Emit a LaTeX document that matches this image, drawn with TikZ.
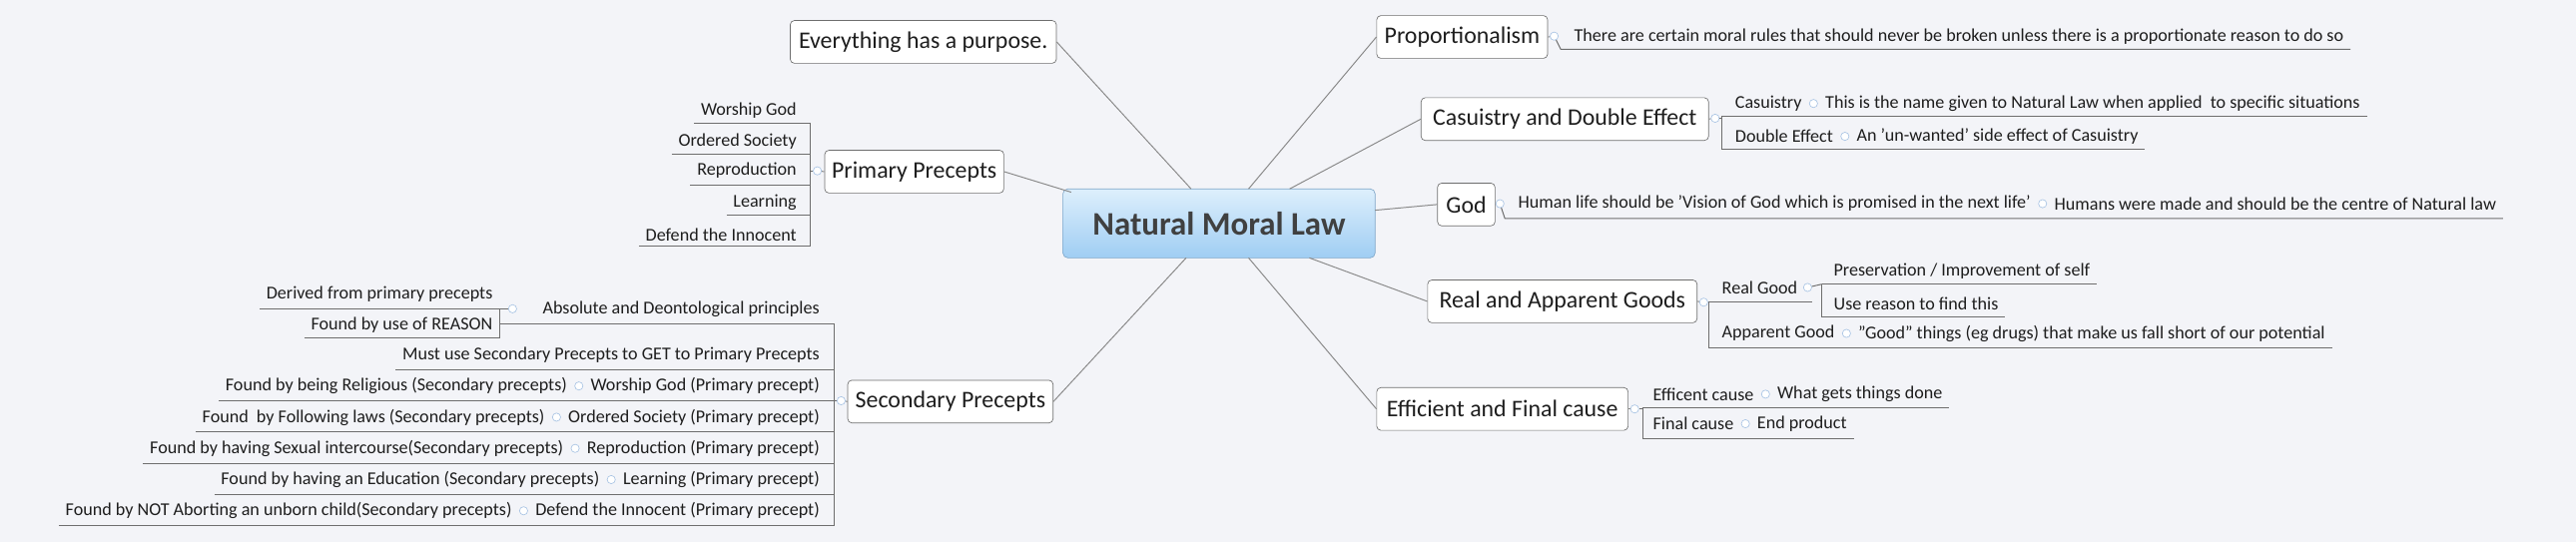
\documentclass[tikz,border=0pt]{standalone}
\usepackage{fontspec}
\setmainfont{Carlito}
\definecolor{bg}{HTML}{F3F4F8}
\definecolor{ln}{HTML}{8A8A8A}
\definecolor{ul}{HTML}{6E6E6E}
\definecolor{dotc}{HTML}{A9C4E4}
\definecolor{ctop}{HTML}{DDEFFC}
\definecolor{cbot}{HTML}{9FCDF3}
\definecolor{cbord}{HTML}{7FA6C8}
\definecolor{txt}{HTML}{1E1E1E}
\begin{document}
\begin{tikzpicture}[x=1pt,y=-1pt,
  topic/.style={draw=ul,rounded corners=2.5pt,fill=white,inner sep=0pt,minimum height=26,font=\fontsize{14.5}{16}\selectfont,text=txt},
  lbl/.style={inner sep=0pt,font=\fontsize{11}{12}\selectfont,text=txt},
  jdot/.style={circle,draw=dotc,fill=white,inner sep=0pt,minimum size=5pt},
  con/.style={draw=ln,line width=0.6pt},
  und/.style={draw=ul,line width=0.6pt}]
\fill[bg] (0,0) rectangle (1568,330);
\useasboundingbox (0,0) rectangle (1568,330);
% central
\node[draw=cbord,rounded corners=3pt,top color=ctop,bottom color=cbot,minimum width=190,minimum height=42,inner sep=0pt,font=\fontsize{20}{22}\selectfont\bfseries,text=black!75] (c) at (742,136) {Natural Moral Law};
% topics
\node[topic,minimum width=162] (ev) at (562,25.5) {Everything has a purpose.};
\node[topic,minimum width=109] (pp) at (556.5,104.5) {Primary Precepts};
\node[topic,minimum width=125] (sp) at (578.5,244.5) {Secondary Precepts};
\node[topic,minimum width=104] (pr) at (890,22.5) {Proportionalism};
\node[topic,minimum width=175] (cd) at (952.5,72.5) {Casuistry and Double Effect};
\node[topic,minimum width=35] (gd) at (892.5,124.5) {God};
\node[topic,minimum width=164] (ra) at (951,183.5) {Real and Apparent Goods};
\node[topic,minimum width=153] (ef) at (914.5,249) {Efficient and Final cause};
% main connectors
\coordinate (c1) at (725,115); \coordinate (c2) at (652,117);
\coordinate (c3) at (722,157); \coordinate (c4) at (760,115);
\coordinate (c5) at (785,115); \coordinate (c6) at (837,128);
\coordinate (c7) at (797,157); \coordinate (c8) at (760,157);
\draw[con] (c1) -- (ev.east); \draw[con] (c2) -- (pp.east);
\draw[con] (c3) -- (sp.east); \draw[con] (c4) -- (pr.west);
\draw[con] (c5) -- (cd.west); \draw[con] (c6) -- (gd.west);
\draw[con] (c7) -- (ra.west); \draw[con] (c8) -- (ef.west);
% Primary precepts children
\node[lbl,anchor=east] (p1) at (485,67) {Worship God};
\node[lbl,anchor=east] (p2) at (485,86) {Ordered Society};
\node[lbl,anchor=east] (p3) at (485,104) {Reproduction};
\node[lbl,anchor=east] (p4) at (485,123) {Learning};
\node[lbl,anchor=east] (p5) at (485,143) {Defend the Innocent};
\coordinate (pv1) at (493,75); \coordinate (pv5) at (493,150);
\draw[und] (pv1) -- (pv5);
\foreach \n/\y in {p1/75,p2/94,p3/113,p4/131,p5/150}{\draw[und] ([xshift=-4pt]\n.west|-0,\y) -- (493,\y);}
\node[jdot] (pj) at (497.5,104) {};
\draw[con] (pp.west) -- (pj); \draw[und] (pj) -- (493,104);
% Secondary precepts children
\node[jdot] (sj) at (512,244) {};
\draw[con] (sp.west) -- (sj); \draw[und] (sj) -- (508,244);
\draw[und] (508,197) -- (508,320);
\node[lbl,anchor=east] (s1) at (499,188) {Absolute and Deontological principles};
\node[lbl,anchor=east] (s2) at (499,216) {Must use Secondary Precepts to GET to Primary Precepts};
\node[lbl,anchor=east] (s3) at (499,235) {Worship God (Primary precept)};
\node[lbl,anchor=east] (s4) at (499,254) {Ordered Society (Primary precept)};
\node[lbl,anchor=east] (s5) at (499,273) {Reproduction (Primary precept)};
\node[lbl,anchor=east] (s6) at (499,292) {Learning (Primary precept)};
\node[lbl,anchor=east] (s7) at (499,311) {Defend the Innocent (Primary precept)};
\node[jdot] (aj) at (312,188) {};
\node[lbl,anchor=east] (a1) at (300,179) {Derived from primary precepts};
\node[lbl,anchor=east] (a2) at (300,198) {Found by use of REASON};
\draw[und] (304,188) -- (304,206);
\draw[und] ([xshift=-4pt]a1.west|-0,188) -- (304,188);
\draw[und] ([xshift=-4pt]a2.west|-0,206) -- (304,206);
\draw[und] (aj) -- (304,188);
\draw[und] (304,197) -- (508,197);
\draw[und] ([xshift=-4pt]s2.west|-0,225) -- (508,225);
\foreach \p/\t/\k in {s3/Found by being Religious (Secondary precepts)/3,
  s4/Found\ \ by Following laws (Secondary precepts)/4,
  s5/Found by having Sexual intercourse(Secondary precepts)/5,
  s6/Found by having an Education (Secondary precepts)/6,
  s7/Found by NOT Aborting an unborn child(Secondary precepts)/7}{
  \node[jdot] (sd\k) at ([xshift=-7pt]\p.west) {};
  \node[lbl,anchor=east] (sc\k) at ([xshift=-7pt]sd\k.center) {\t};
}
\foreach \k/\y in {3/244,4/263,5/282,6/301,7/320}{\draw[und] ([xshift=-4pt]sc\k.west|-0,\y) -- (508,\y);}
% Proportionalism
\node[jdot] (prj) at (946,22) {};
\draw[con] (pr.east) -- (prj);
\node[lbl,anchor=west] (pr1) at (958,22) {There are certain moral rules that should never be broken unless there is a proportionate reason to do so};
\draw[und] (prj) -- (950,30) -- ([xshift=4pt]pr1.east|-0,30);
% Casuistry
\node[jdot] (cdj) at (1044,72) {};
\draw[con] (cd.east) -- (cdj); \draw[und] (cdj) -- (1048,72);
\node[lbl,anchor=west] (cs1) at (1056,63) {Casuistry};
\node[jdot] (cs1j) at ([xshift=7pt]cs1.east) {};
\node[lbl,anchor=west] (cs2) at ([xshift=7pt]cs1j.center) {This is the name given to Natural Law when applied\ \ to specific situations};
\node[lbl,anchor=west] (de1) at (1056,83) {Double Effect};
\node[jdot] (de1j) at ([xshift=7pt]de1.east) {};
\node[lbl,anchor=west] (de2) at ([xshift=7pt]de1j.center) {An 'un-wanted' side effect of Casuistry};
\draw[und] (1048,71) -- (1048,91);
\draw[und] (1048,71) -- ([xshift=4pt]cs2.east|-0,71);
\draw[und] (1048,91) -- ([xshift=4pt]de2.east|-0,91);
% God
\node[jdot] (gj) at (913,124) {};
\draw[con] (gd.east) -- (gj);
\node[lbl,anchor=west] (g1) at (924,124) {Human life should be 'Vision of God which is promised in the next life'};
\node[jdot] (g1j) at ([xshift=7pt]g1.east) {};
\node[lbl,anchor=west] (g2) at ([xshift=7pt]g1j.center) {Humans were made and should be the centre of Natural law};
\draw[und] (gj) -- (916,133) -- ([xshift=4pt]g2.east|-0,133);
% Real and apparent
\node[jdot] (raj) at (1037,184) {};
\draw[con] (ra.east) -- (raj); \draw[und] (raj) -- (1040,184);
\node[lbl,anchor=west] (rg) at (1048,175) {Real Good};
\node[jdot] (rgj) at ([xshift=6pt]rg.east) {};
\node[lbl,anchor=west] (rg1) at (1116,165) {Preservation / Improvement of self};
\node[lbl,anchor=west] (rg2) at (1116,185) {Use reason to find this};
\draw[und] (rgj) -- (1109,173);
\draw[und] (1109,173) -- (1109,193);
\draw[und] (1109,173) -- ([xshift=4pt]rg1.east|-0,173);
\draw[und] (1109,193) -- ([xshift=4pt]rg2.east|-0,193);
\node[lbl,anchor=west] (ag) at (1048,203) {Apparent Good};
\node[jdot] (agj) at ([xshift=7pt]ag.east) {};
\node[lbl,anchor=west] (ag1) at ([xshift=7pt]agj.center) {"Good" things (eg drugs) that make us fall short of our potential};
\draw[und] (1040,184) -- (1040,212);
\draw[und] (1040,184) -- (1103,184);
\draw[und] (1040,212) -- ([xshift=4pt]ag1.east|-0,212);
% Efficient
\node[jdot] (efj) at (995,249) {};
\draw[con] (ef.east) -- (efj); \draw[und] (efj) -- (1000,249);
\node[lbl,anchor=west] (e1) at (1006,240) {Efficent cause};
\node[jdot] (e1j) at ([xshift=7pt]e1.east) {};
\node[lbl,anchor=west] (e2) at ([xshift=7pt]e1j.center) {What gets things done};
\node[lbl,anchor=west] (f1) at (1006,258) {Final cause};
\node[jdot] (f1j) at ([xshift=7pt]f1.east) {};
\node[lbl,anchor=west] (f2) at ([xshift=7pt]f1j.center) {End product};
\draw[und] (1000,248) -- (1000,267);
\draw[und] (1000,248) -- ([xshift=4pt]e2.east|-0,248);
\draw[und] (1000,267) -- ([xshift=4pt]f2.east|-0,267);
\end{tikzpicture}
\end{document}
